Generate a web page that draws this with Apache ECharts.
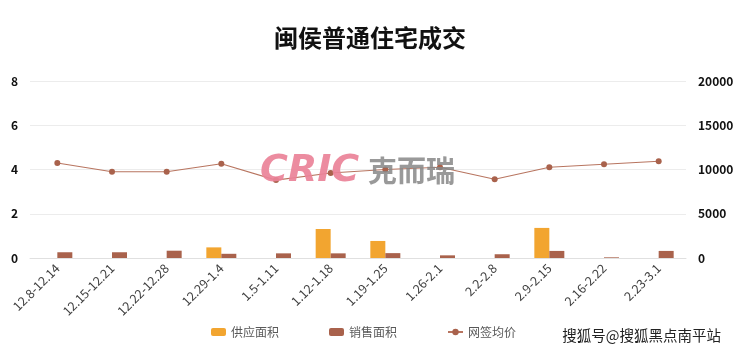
<!DOCTYPE html>
<html>
<head>
<meta charset="utf-8">
<script src="https://cdn.jsdelivr.net/npm/echarts@6/dist/echarts.min.js"></script>
<style>
  html, body { margin: 0; padding: 0; background: #fff; }
  #chart { width: 740px; height: 353px; }
</style>
</head>
<body>
<div id="chart"></div>
<script>
const categories = ['12.8-12.14', '12.15-12.21', '12.22-12.28', '12.29-1.4', '1.5-1.11', '1.12-1.18',
  '1.19-1.25', '1.26-2.1', '2.2-2.8', '2.9-2.15', '2.16-2.22', '2.23-3.1']
const supplyArea = [0, 0, 0, 0.48, 0, 1.31, 0.77, 0, 0, 1.36, 0, 0]
const salesArea = [0.26, 0.26, 0.33, 0.19, 0.21, 0.21, 0.22, 0.12, 0.17, 0.32, 0.03, 0.32]
const avgPrice = [10730, 9750, 9750, 10650, 8800, 9600, 10000, 10250, 8900, 10250, 10590, 10930]
const leftTicks = { min: 0, max: 8, interval: 2 }
const rightTicks = { min: 0, max: 20000, interval: 5000 }

const FONT = '"Noto Sans CJK SC", "Noto Sans", sans-serif'

let myChart = echarts.init(document.getElementById('chart'))
myChart.setOption({
  backgroundColor: '#fff',
  textStyle: { fontFamily: FONT },
  title: {
    text: '闽侯普通住宅成交',
    left: 'center',
    top: 21,
    textStyle: { fontSize: 24, fontWeight: 'bold', color: '#111', fontFamily: FONT }
  },
  legend: {
    bottom: 10,
    left: 206,
    itemGap: 50,
    itemWidth: 15,
    itemHeight: 8,
    textStyle: { fontSize: 12, color: '#595959', fontFamily: FONT },
    data: ['供应面积', '销售面积', '网签均价']
  },
  grid: { left: 30, right: 54, top: 81, bottom: 95, containLabel: false },
  xAxis: {
    type: 'category',
    data: categories,
    axisLine: { lineStyle: { color: '#e0e0e0' } },
    axisTick: { show: false },
    axisLabel: { rotate: 45, margin: 8, fontSize: 12.5, color: '#404040', interval: 0 }
  },
  yAxis: [
    {
      type: 'value',
      min: leftTicks.min, max: leftTicks.max, interval: leftTicks.interval,
      axisLabel: { fontSize: 12, fontWeight: 'bold', color: '#111', margin: 12 },
      splitLine: { lineStyle: { color: '#ececec' } },
      axisLine: { show: false },
      axisTick: { show: false }
    },
    {
      type: 'value',
      min: rightTicks.min, max: rightTicks.max, interval: rightTicks.interval,
      axisLabel: { fontSize: 12, fontWeight: 'bold', color: '#111', margin: 12,
        formatter: v => String(v) },
      splitLine: { show: false },
      axisLine: { show: false },
      axisTick: { show: false }
    }
  ],
  series: [
    {
      name: '供应面积',
      type: 'bar',
      barWidth: 15,
      barGap: '0%',
      itemStyle: { color: '#F2A530' },
      data: supplyArea
    },
    {
      name: '销售面积',
      type: 'bar',
      barWidth: 15,
      itemStyle: { color: '#A9624C' },
      data: salesArea
    },
    {
      name: '网签均价',
      type: 'line',
      yAxisIndex: 1,
      symbol: 'circle',
      symbolSize: 6,
      lineStyle: { color: '#B87560', width: 1.1 },
      itemStyle: { color: '#A9624C' },
      data: avgPrice,
      z: 3
    }
  ],
  graphic: [
    {
      type: 'text', left: 260, top: 152, z: 10,
      style: { text: 'CRIC', fontSize: 38, fontWeight: 900, fontStyle: 'italic',
        fill: 'rgba(234,130,152,0.92)', fontFamily: '"DejaVu Sans", sans-serif' }
    },
    {
      type: 'text', left: 368, top: 156, z: 10,
      style: { text: '克而瑞', fontSize: 29, fontWeight: 'bold', fill: 'rgba(135,135,135,0.85)', fontFamily: FONT }
    },
    {
      type: 'text', right: 18, bottom: 9, z: 10,
      style: { text: '搜狐号@搜狐黑点南平站', fontSize: 14.5, fill: '#222', fontFamily: FONT,
        stroke: '#fff', lineWidth: 2 }
    }
  ]
})
</script>
</body>
</html>
